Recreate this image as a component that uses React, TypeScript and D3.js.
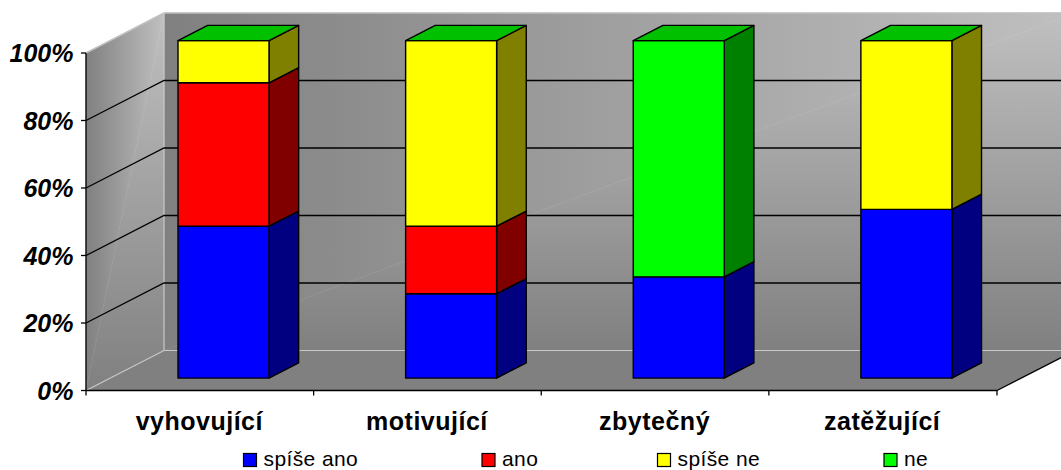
import React from "react";
import * as d3 from "d3";

const categories = ["vyhovující", "motivující", "zbytečný", "zatěžující"];
const seriesNames = ["spíše ano", "ano", "spíše ne", "ne"];
const spiseAno = [45, 25, 30, 50];
const ano = [42.5, 20, 0, 0];
const spiseNe = [12.5, 55, 0, 50];
const ne = [0, 0, 70, 0];
const seriesValues = [spiseAno, ano, spiseNe, ne];
const yTicks = [0, 20, 40, 60, 80, 100];

const frontColors = ["#0000ff", "#ff0000", "#ffff00", "#00ff00"];
const sideColors = ["#000080", "#800000", "#808000", "#008000"];
const topColor = "#00c000";
const legendX = [243.5, 482, 657.5, 884];

const W = 1061;
const H = 470;
// The oblique projection: a point at depth d is shifted by (dx * d, -dy * d).
const dx = 78;
const dy = 40;
const depthFront = 0.31;
const depthBack = 0.69;

const x = d3.scaleBand<string>().domain(categories).range([86, 996.5]);
const y = d3.scaleLinear().domain([0, 100]).range([390.5, 53]);

const poly = (pts: [number, number][]) => pts.map((p) => p.join(",")).join(" ");
const at = (px: number, v: number, d: number): [number, number] => [px + dx * d, y(v) - dy * d];

export default function App() {
  const barW = 91;
  const barOffset = 92;
  const stacks = d3
    .stack<number>()
    .keys(d3.range(seriesNames.length).map(String))
    .value((i, k) => seriesValues[+k][i])(d3.range(categories.length));

  const backBL = at(86, 0, 1);
  const backBR = at(997, 0, 1);
  const backTL = at(86, 100, 1);
  const backTR = at(997, 100, 1);
  const frontBL = at(86, 0, 0);
  const frontTL = at(86, 100, 0);

  return (
    <svg
      width={W}
      height={H}
      style={{ position: "absolute", left: 0, top: 0, fontFamily: "'Liberation Sans', Arial, sans-serif" }}
    >
      <defs>
        {/* Corner-style fill: each wall is split along its diagonal, one half shaded by x, the other by y */}
        <linearGradient id="backByX" gradientUnits="userSpaceOnUse" x1={backTL[0]} y1={0} x2={backTR[0]} y2={0}>
          <stop offset="0" stopColor="#808080" />
          <stop offset="1" stopColor="#c0c0c0" />
        </linearGradient>
        <linearGradient id="backByY" gradientUnits="userSpaceOnUse" x1={0} y1={backBL[1]} x2={0} y2={backTL[1]}>
          <stop offset="0" stopColor="#808080" />
          <stop offset="1" stopColor="#c0c0c0" />
        </linearGradient>
        <linearGradient id="leftByX" gradientUnits="userSpaceOnUse" x1={frontTL[0]} y1={0} x2={backTL[0]} y2={0}>
          <stop offset="0" stopColor="#808080" />
          <stop offset="1" stopColor="#c0c0c0" />
        </linearGradient>
        <linearGradient id="leftByY" gradientUnits="userSpaceOnUse" x1={0} y1={frontBL[1]} x2={0} y2={backTL[1]}>
          <stop offset="0" stopColor="#808080" />
          <stop offset="1" stopColor="#c0c0c0" />
        </linearGradient>
      </defs>

      {/* Walls and floor */}
      <polygon points={poly([backTL, backTR, backBL])} fill="url(#backByX)" stroke="url(#backByX)" strokeWidth={0.5} />
      <polygon points={poly([backTR, backBR, backBL])} fill="url(#backByY)" stroke="url(#backByY)" strokeWidth={0.5} />
      <polygon points={poly([frontTL, backTL, frontBL])} fill="url(#leftByX)" stroke="url(#leftByX)" strokeWidth={0.5} />
      <polygon points={poly([backTL, backBL, frontBL])} fill="url(#leftByY)" stroke="url(#leftByY)" strokeWidth={0.5} />
      <polygon points={poly([frontBL, at(997, 0, 0), backBR, backBL])} fill="#808080" />

      {/* Wall edges */}
      <polyline points={poly([frontTL, backTL, backTR])} fill="none" stroke="#c0c0c0" strokeWidth={1.5} />
      <polyline points={poly([frontBL, backBL, backBR])} fill="none" stroke="#c8c8c8" strokeWidth={1.2} />
      <line x1={backBL[0]} x2={backTL[0]} y1={backBL[1]} y2={backTL[1]} stroke="#c8c8c8" strokeWidth={1.2} />
      <line x1={at(997, 0, 0)[0]} y1={at(997, 0, 0)[1]} x2={backBR[0]} y2={backBR[1]} stroke="#000" strokeWidth={1.3} />

      {/* Gridlines along the left and back walls */}
      {yTicks.filter((t) => t > 0 && t < 100).map((t) => (
        <polyline
          key={t}
          points={poly([at(86, t, 0), at(86, t, 1), at(997, t, 1)])}
          fill="none"
          stroke="#000"
          strokeWidth={1.3}
        />
      ))}

      {/* Axes */}
      <line x1={86} x2={86} y1={y(0)} y2={y(100)} stroke="#000" strokeWidth={1.3} />
      <line x1={86} x2={997} y1={y(0)} y2={y(0)} stroke="#000" strokeWidth={1.5} />
      {yTicks.map((t) => (
        <g key={t}>
          <line x1={81} x2={86} y1={y(t)} y2={y(t)} stroke="#000" strokeWidth={1.3} />
          <text x={73.5} y={y(t) + 9} textAnchor="end" fontSize={25} fontWeight="bold" fontStyle="italic" fill="#000">
            {t}%
          </text>
        </g>
      ))}
      {[...categories.map((c) => x(c)!), 997].map((tx) => (
        <line key={tx} x1={tx} x2={tx} y1={y(0)} y2={y(0) + 5} stroke="#000" strokeWidth={1.3} />
      ))}
      {categories.map((c) => (
        <text
          key={c}
          x={x(c)! + x.bandwidth() / 2 - 0.5}
          y={430}
          textAnchor="middle"
          fontSize={25}
          letterSpacing={0.5}
          fontWeight="bold"
          fill="#000"
        >
          {c}
        </text>
      ))}

      {/* Stacked 3D bars */}
      {categories.map((c, i) => {
        const left = x(c)! + barOffset - dx * depthFront;
        const right = left + barW;
        return (
          <g key={c} stroke="#000" strokeWidth={1.4} strokeLinejoin="round">
            {stacks.map((layer, s) => {
              const [v0, v1] = layer[i];
              if (v1 - v0 <= 0) return null;
              return (
                <g key={s}>
                  <polygon
                    points={poly([at(right, v0, depthFront), at(right, v0, depthBack), at(right, v1, depthBack), at(right, v1, depthFront)])}
                    fill={sideColors[s]}
                  />
                  <polygon
                    points={poly([at(left, v0, depthFront), at(right, v0, depthFront), at(right, v1, depthFront), at(left, v1, depthFront)])}
                    fill={frontColors[s]}
                  />
                </g>
              );
            })}
            <polygon
              points={poly([at(left, 100, depthFront), at(right, 100, depthFront), at(right, 100, depthBack), at(left, 100, depthBack)])}
              fill={topColor}
            />
          </g>
        );
      })}

      {/* Legend */}
      {seriesNames.map((name, i) => (
        <g key={name}>
          <rect x={legendX[i]} y={453.5} width={13} height={13} fill={frontColors[i]} stroke="#000" strokeWidth={1.2} />
          <text x={legendX[i] + 20} y={465.5} fontSize={21} letterSpacing={0.4} fill="#000">
            {name}
          </text>
        </g>
      ))}
    </svg>
  );
}
